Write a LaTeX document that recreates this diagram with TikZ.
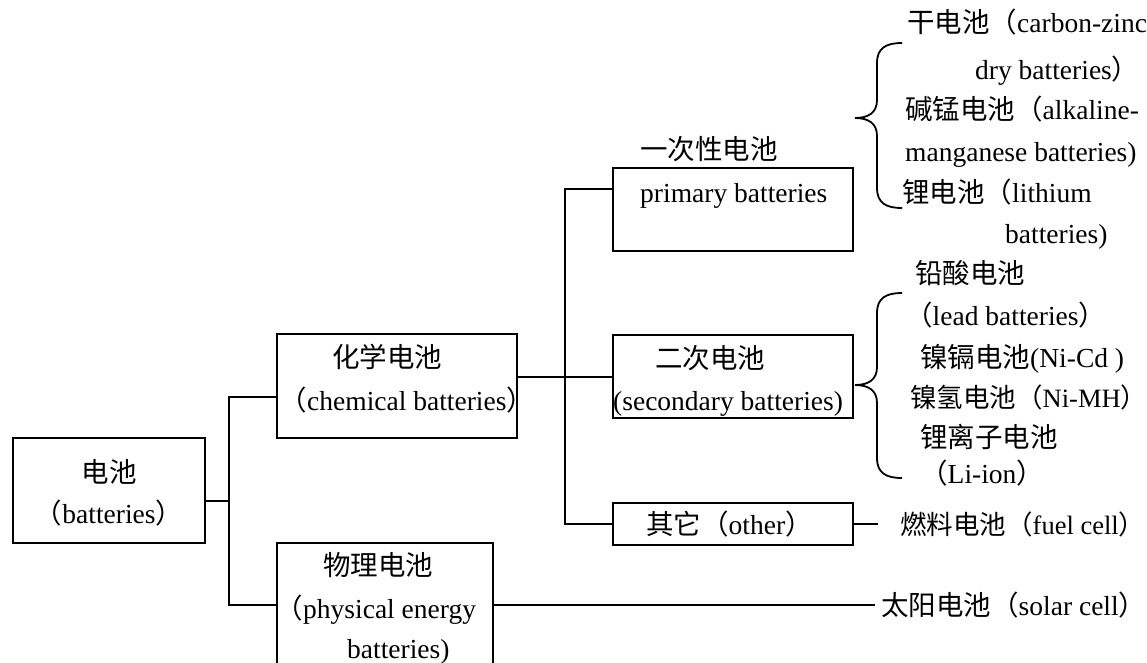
\documentclass[tikz,border=0pt]{standalone}
\usepackage{fontspec}
\setmainfont{Liberation Serif}
\newfontfamily\cjk{Noto Sans CJK SC}
\tikzset{
  box/.style={draw, line width=1.8pt, inner sep=0pt},
  conn/.style={line width=1.8pt},
  brc/.style={line width=1.8pt},
  txt/.style={inner sep=0pt, anchor=base west, font=\fontsize{27.5}{33}\selectfont},
  stxt/.style={inner sep=0pt, anchor=base west, font=\fontsize{26.5}{33}\selectfont},
  ctxt/.style={inner sep=0pt, anchor=base, font=\fontsize{27.5}{33}\selectfont},
}
\begin{document}
\begin{tikzpicture}[x=1pt,y=-1pt]
\useasboundingbox (0,0) rectangle (1147,663);
\fill[white] (0,0) rectangle (1147,663);
% boxes
\node[box, minimum width=192pt, minimum height=105pt] (root) at (109,490.5) {};
\node[box, minimum width=240pt, minimum height=104pt] (chem) at (397,386) {};
\node[box, minimum width=216pt, minimum height=125pt] (phys) at (385,605.5) {};
\node[box, minimum width=240pt, minimum height=83pt] (prim) at (733,209.5) {};
\node[box, minimum width=240pt, minimum height=83pt] (sec) at (733,376.5) {};
\node[box, minimum width=240pt, minimum height=42pt] (other) at (733,524) {};
% box texts
\node[ctxt] (rootA) at (109,482) {{\cjk 电池}};
\node[ctxt] (rootB) at (109,523) {{\cjk （}batteries{\cjk ）}};
\node[ctxt] (chemA) at (387,367) {{\cjk 化学电池}};
\node[txt] (chemB) at (279.5,410) {{\cjk （}chemical batteries{\cjk ）}};
\node[ctxt] (physA) at (378,575) {{\cjk 物理电池}};
\node[txt] (physB) at (275.5,618) {{\cjk （}physical energy};
\node[txt] (physC) at (347,658) {batteries)};
\node[txt] (primA) at (640,160) {{\cjk 一次性电池}};
\node[txt] (primB) at (640,202) {primary batteries};
\node[txt] (secA) at (655,368) {{\cjk 二次电池}};
\node[txt] (secB) at (613,410) {(secondary batteries)};
\node[txt] (othA) at (646,534) {{\cjk 其它（}other{\cjk ）}};
% connectors
\coordinate (j0) at (229,501);
\coordinate (t1) at (229,397);
\coordinate (t2) at (229,605);
\draw[conn] (root.east |- j0) -- (j0);
\draw[conn] (chem.west |- t1) -- (t1) -- (t2) -- (phys.west |- t2);
\coordinate (u1) at (565,189);
\coordinate (u2) at (565,524);
\coordinate (u3) at (565,377);
\draw[conn] (chem.east |- u3) -- (sec.west |- u3);
\draw[conn] (prim.west |- u1) -- (u1) -- (u2) -- (other.west |- u2);
\coordinate (fe) at (878,524);
\draw[conn] (other.east) -- (fe);
\coordinate (se) at (875,605);
\draw[conn] (phys.east |- t2) -- (se);
% braces
\draw[brc] (902,43) .. controls (886,43) and (877,48) .. (877,63) -- (877,100)
  .. controls (877,113) and (868,118) .. (855,118)
  .. controls (868,118) and (877,123) .. (877,136) -- (877,188)
  .. controls (877,203) and (886,208) .. (902,208);
\draw[brc] (902,293) .. controls (886,293) and (877,298) .. (877,313) -- (877,367)
  .. controls (877,380) and (868,385) .. (855,385)
  .. controls (868,385) and (877,390) .. (877,403) -- (877,458)
  .. controls (877,473) and (886,478) .. (902,478);
% right column
\node[txt] (r1) at (907,33) {{\cjk 干电池（}carbon-zinc};
\node[txt] (r2) at (975,80) {dry batteries{\cjk ）}};
\node[txt] (r3) at (905,120) {{\cjk 碱锰电池（}alkaline-};
\node[txt] (r4) at (905,162) {manganese batteries)};
\node[txt] (r5) at (902,202) {{\cjk 锂电池（}lithium};
\node[txt] (r6) at (1005,243) {batteries)};
\node[txt] (r7) at (915,283) {{\cjk 铅酸电池}};
\node[txt] (r8) at (905,325) {{\cjk （}lead batteries{\cjk ）}};
\node[txt] (r9) at (920,367) {{\cjk 镍镉电池}(Ni-Cd )};
\node[stxt] (r10) at (910,407) {{\cjk 镍氢电池（}Ni-MH{\cjk ）}};
\node[txt] (r11) at (920,447) {{\cjk 锂离子电池}};
\node[txt] (r12) at (920,483) {{\cjk （}Li-ion{\cjk ）}};
\node[stxt] (fuel) at (900,534) {{\cjk 燃料电池（}fuel cell{\cjk ）}};
\node[txt] (solar) at (881,615) {{\cjk 太阳电池（}solar cell{\cjk ）}};
\end{tikzpicture}
\end{document}
